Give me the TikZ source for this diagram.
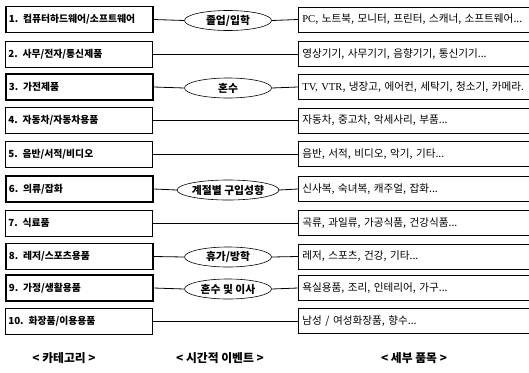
\documentclass[tikz,border=0pt]{standalone}
\usepackage{fontspec}
\newfontfamily\kr{Noto Sans CJK KR}
\newfontfamily\lat{Liberation Serif}
\usetikzlibrary{shapes.geometric}
\tikzset{
  x=1pt,y=-1pt,
  catbox/.style={draw,line width=0.6pt,minimum width=147pt,minimum height=26pt,anchor=west,inner xsep=3pt,
    font=\kr\bfseries\fontsize{9.8}{11}\selectfont,text width=141pt,align=left},
  catthick/.style={catbox,line width=1.6pt},
  evt/.style={draw,ellipse,line width=0.6pt,fill=white,minimum width=87pt,minimum height=20pt,inner sep=0pt,
    font=\kr\bfseries\fontsize{10.8}{12}\selectfont},
  itembox/.style={draw,line width=0.7pt,minimum width=250pt,minimum height=25pt,anchor=west,inner xsep=4pt,
    font=\kr\fontsize{10.6}{12}\selectfont,text width=242pt,align=left},
  link/.style={line width=0.8pt},
  lbl/.style={font=\kr\bfseries\fontsize{11.8}{14}\selectfont}
}
\begin{document}
\begin{tikzpicture}
\clip (0,0) rectangle (529,372);
\fill[white] (0,0) rectangle (529,372);
% categories
\node[catthick] (c1) at (5,19.5) {1. 컴퓨터하드웨어/소프트웨어};
\node[catbox] (c2) at (5,54) {2. 사무/전자/통신제품};
\node[catthick] (c3) at (5,87) {3. 가전제품};
\node[catbox] (c4) at (5,120.5) {4. 자동차/자동차용품};
\node[catbox] (c5) at (5,154) {5. 음반/서적/비디오};
\node[catthick] (c6) at (5,189) {6. 의류/잡화};
\node[catbox] (c7) at (5,223) {7. 식료품};
\node[catthick] (c8) at (5,256.5) {8. 레저/스포츠용품};
\node[catthick] (c9) at (5,288) {9. 가정/생활용품};
\node[catbox] (c10) at (5,321) {10. 화장품/이용용품};
% items
\node[itembox] (i1) at (298,19.5) {{\lat PC}, 노트북, 모니터, 프린터, 스캐너, 소프트웨어...};
\node[itembox] (i2) at (298,54) {영상기기, 사무기기, 음향기기, 통신기기...};
\node[itembox] (i3) at (298,87) {{\lat TV, VTR}, 냉장고, 에어컨, 세탁기, 청소기, 카메라.};
\node[itembox] (i4) at (298,120.5) {자동차, 중고차, 악세사리, 부품...};
\node[itembox] (i5) at (298,154) {음반, 서적, 비디오, 악기, 기타...};
\node[itembox] (i6) at (298,189) {신사복, 숙녀복, 캐주얼, 잡화...};
\node[itembox] (i7) at (298,223) {곡류, 과일류, 가공식품, 건강식품...};
\node[itembox] (i8) at (298,256.5) {레저, 스포츠, 건강, 기타...};
\node[itembox] (i9) at (298,288) {욕실용품, 조리, 인테리어, 가구...};
\node[itembox] (i10) at (298,321) {남성 / 여성화장품, 향수...};
% events
\node[evt] (e1) at (228,20.5) {졸업/입학};
\node[evt] (e3) at (228,88) {혼수};
\node[evt] (e6) at (228,190) {계절별 구입성향};
\node[evt] (e8) at (228,257) {휴가/방학};
\node[evt] (e9) at (228,289) {혼수 및 이사};
% connectors
\foreach \k in {1,3,6,8,9} {
  \draw[link] (c\k.east) -- (e\k.west);
  \draw[link] (e\k.east) -- (i\k.west);
}
\foreach \k in {2,4,5,7,10} {
  \draw[link] (c\k.east) -- (i\k.west);
}
% column labels
\node[lbl] (l1) at (64,358) {< 카테고리 >};
\node[lbl] (l2) at (220,358) {< 시간적 이벤트 >};
\node[lbl] (l3) at (414,358) {< 세부 품목 >};
\end{tikzpicture}
\end{document}
